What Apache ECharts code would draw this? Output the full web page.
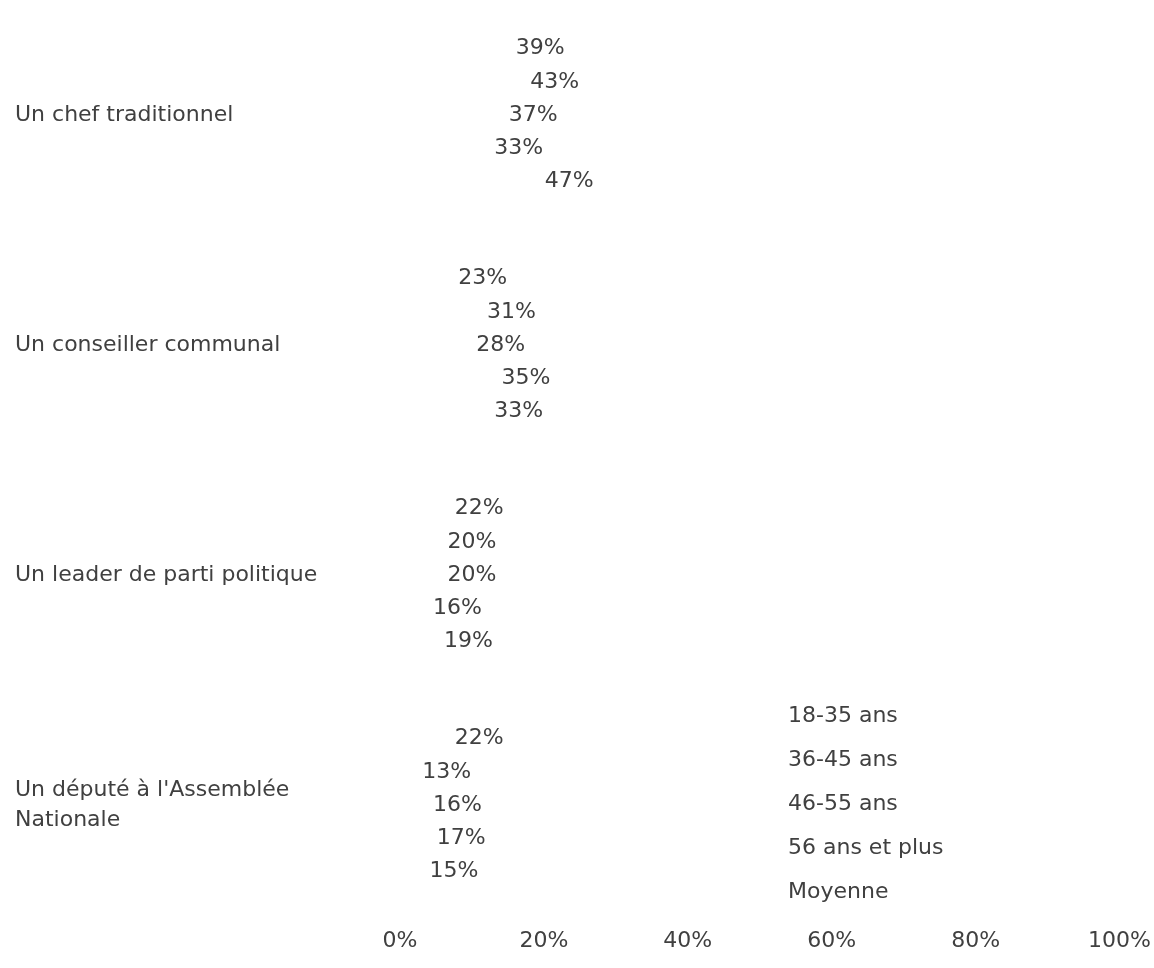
<!DOCTYPE html>
<html>
<head>
<meta charset="utf-8">
<script src="https://cdn.jsdelivr.net/npm/echarts@6/dist/echarts.min.js"></script>
<style>
  html, body { margin: 0; padding: 0; background: #fff; }
  #main { width: 1154px; height: 968px; }
</style>
</head>
<body>
<div id="main"></div>
<script>
// roles (y axis), age groups (series), values in %
const roles = ["Un chef traditionnel", "Un conseiller communal", "Un leader de parti politique", "Un député à l'Assemblée Nationale"];
const groups = ["18-35 ans", "36-45 ans", "46-55 ans", "56 ans et plus", "Moyenne"];
const age18 = [39, 23, 22, 22];
const age36 = [43, 31, 20, 13];
const age46 = [37, 28, 20, 16];
const age56 = [33, 35, 16, 17];
const moyenne = [47, 33, 19, 15];
const xTicks = [0, 20, 40, 60, 80, 100];

const values = [age18, age36, age46, age56, moyenne];
const textColor = '#404040';
const font = 'DejaVu Sans';
const fontSize = 22;

let myChart = echarts.init(document.getElementById('main'));

let option = {
  backgroundColor: '#fff',
  textStyle: { fontFamily: font },
  // legende a droite, sans pastilles (les barres ne sont pas colorees)
  legend: {
    orient: 'vertical',
    left: 778,
    top: 700,
    itemWidth: 0,
    itemHeight: 0,
    itemGap: 22,
    textStyle: { color: textColor, fontSize: fontSize, fontFamily: font },
    data: groups
  },
  grid: { left: 400, right: 14, top: -10, bottom: 48 },
  xAxis: {
    type: 'value',
    min: xTicks[0],
    max: xTicks[xTicks.length - 1],
    interval: 20,
    axisLine: { show: false },
    axisTick: { show: false },
    splitLine: { show: false },
    axisLabel: { formatter: '{value}%', color: textColor, fontSize: fontSize, fontFamily: font, margin: 10 }
  },
  yAxis: {
    type: 'category',
    inverse: true,
    data: roles,
    axisLine: { show: false },
    axisTick: { show: false },
    axisLabel: {
      align: 'left',
      margin: 385,
      width: 370,
      overflow: 'break',
      lineHeight: 30,
      color: textColor,
      fontSize: fontSize,
      fontFamily: font
    }
  },
  series: groups.map((g, i) => ({
    name: g,
    type: 'bar',
    data: values[i],
    barGap: '0%',
    barCategoryGap: '28%',
    itemStyle: { color: 'rgba(255,255,255,0)' },
    label: {
      show: true,
      position: 'inside',
      formatter: '{c}%',
      color: textColor,
      fontSize: fontSize,
      fontFamily: font
    },
    emphasis: { disabled: true }
  }))
};

myChart.setOption(option);
</script>
</body>
</html>
